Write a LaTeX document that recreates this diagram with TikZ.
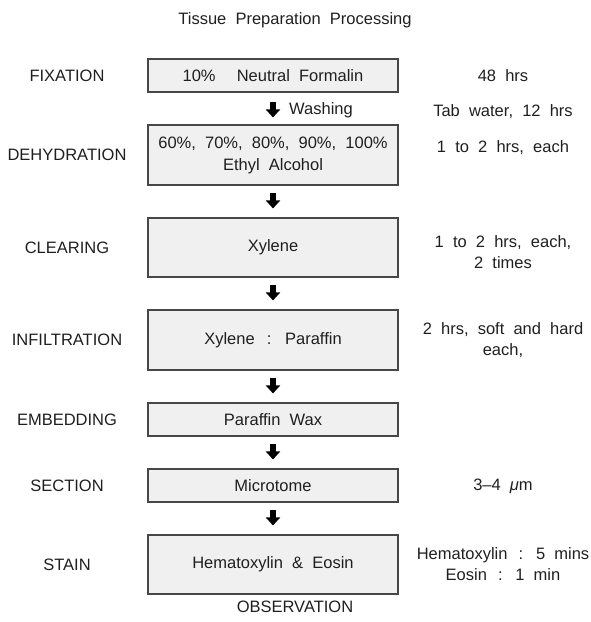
\documentclass[tikz,border=0pt]{standalone}
\usepackage{fontspec}
\setmainfont{Liberation Sans}[WordSpace=2]
\usetikzlibrary{arrows.meta}
\begin{document}
\begin{tikzpicture}[x=1pt,y=1pt,
  every node/.style={font=\fontsize{16.5}{21}\selectfont, inner sep=0pt, text=black!88},
  procbox/.style={draw=black!72, line width=1.1pt, fill=black!6, minimum width=250pt, anchor=center, align=center},
  flow/.style={draw=black, line width=5.5pt, -{Triangle[width=14pt 0,length=8pt 0]}, shorten <=7pt, shorten >=9pt},
  side/.style={align=center, anchor=center}]
\useasboundingbox (0,0) rectangle (590,-622);
\node (title) at (295,-20) {Tissue Preparation Processing};
% process boxes
\node[procbox, minimum height=33pt] (b1) at (273,-75.5) {10\%\hspace{12pt} Neutral Formalin};
\node[procbox, minimum height=60pt] (b2) at (273,-155) {60\%, 70\%, 80\%, 90\%, 100\%\\[1pt]Ethyl Alcohol};
\node[procbox, minimum height=59pt] (b3) at (273,-247.5) {Xylene};
\node[procbox, minimum height=60pt] (b4) at (273,-340) {Xylene\hspace{3pt} : \hspace{3pt}Paraffin};
\node[procbox, minimum height=33pt] (b5) at (273,-419.5) {Paraffin Wax};
\node[procbox, minimum height=33pt] (b6) at (273,-485.5) {Microtome};
\node[procbox, minimum height=59pt] (b7) at (273,-564.5) {Hematoxylin \& Eosin};
\node (obs) at (295,-607) {OBSERVATION};
% arrows
\draw[flow, shorten <=9pt, shorten >=7pt] (b1) -- (b2);
\node[anchor=west] (wash) at (289,-110) {Washing};
\draw[flow] (b2) -- (b3);
\draw[flow] (b3) -- (b4);
\draw[flow] (b4) -- (b5);
\draw[flow] (b5) -- (b6);
\draw[flow] (b6) -- (b7);
% left labels
\node (l1) at (67,-75.5) {FIXATION};
\node (l2) at (67,-155) {DEHYDRATION};
\node (l3) at (67,-247.5) {CLEARING};
\node (l4) at (67,-340) {INFILTRATION};
\node (l5) at (67,-419.5) {EMBEDDING};
\node (l6) at (67,-485.5) {SECTION};
\node (l7) at (67,-564.5) {STAIN};
% right labels
\node[side] (r1) at (503,-76) {48 hrs};
\node[side] (rw) at (503,-112) {Tab water, 12 hrs};
\node[side] (r2) at (503,-148) {1 to 2 hrs, each};
\node[side] (r3) at (503,-252) {1 to 2 hrs, each,\\2 times};
\node[side] (r4) at (503,-340) {2 hrs, soft and hard\\each,};
\node[side] (r6) at (503,-486) {3–4 \textit{μ}m};
\node[side] (r7) at (503,-564) {Hematoxylin\hspace{2pt} : \hspace{2pt}5 mins\\Eosin\hspace{2pt} : \hspace{2pt}1 min};
\end{tikzpicture}
\end{document}
